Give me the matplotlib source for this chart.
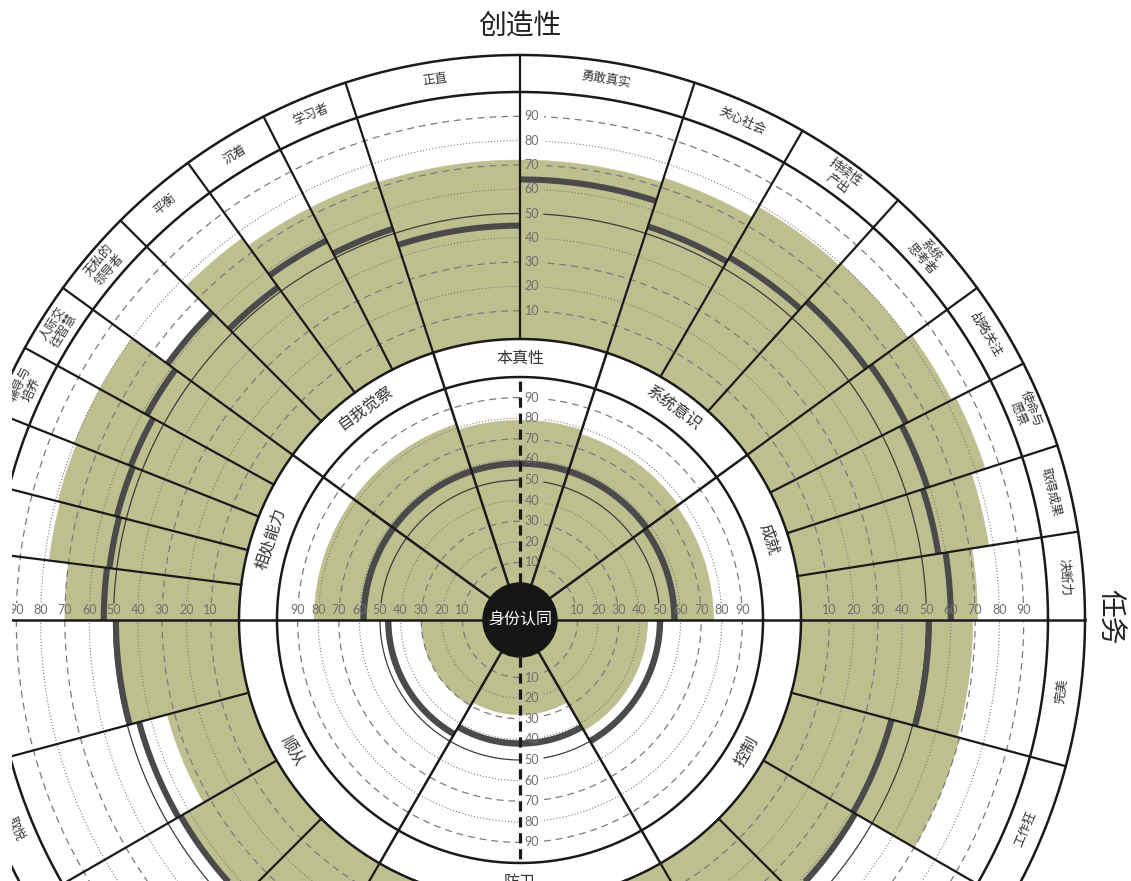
import numpy as np
import matplotlib
matplotlib.use("Agg")
import matplotlib.pyplot as plt
from matplotlib.patches import Wedge, Circle

plt.rcParams['font.family'] = ['Noto Sans CJK SC', 'DejaVu Sans']

# ---------------- data ----------------
axis_titles = ['创造性', '任务']
core_label = '身份认同'

# summary dimensions (inner ring), angles counterclockwise from the right horizontal
inner_dims = ['成就', '系统意识', '本真性', '自我觉察', '相处能力', '顺从', '防卫', '控制']
inner_spans = [(0, 36), (36, 72), (72, 108), (108, 144), (144, 180),
               (180, 240), (240, 300), (300, 360)]
inner_score = [76, 77, 79, 82, 82, 30, 28, 44]   # shaded level
inner_self = [57, 58, 58, 58, 58, 46, 42, 50]    # dark line level

# competencies (outer ring), grouped by the dimensions above
comp_labels = [
    '决断力', '取得成果', '使命与\n愿景', '战略关注',
    '系统\n思考者', '持续性\n产出', '关心社会',
    '勇敢真实', '正直',
    '学习者', '沉着', '平衡', '无私的\n领导者',
    '人际交\n往智慧', '辅导与\n培养', '合作者', '团队精神', '关怀联结',
    '保守', '取悦', '归属', '被动',
    '疏离', '挑剔', '傲慢',
    '专制', '野心', '工作狂', '完美',
]
comp_per_dim = [4, 3, 2, 4, 5, 4, 3, 4]
comp_score = [71, 78, 84, 82,
              80, 79, 74,
              72, 72,
              73, 73, 77, 62,
              80, 80, 79, 78, 70,
              48, 33, 43, 50,
              45, 40, 50,
              50, 41, 70, 69]
comp_self = [60, 57, 59, 61,
             59, 55, 53,
             64, 45,
             52, 58, 52, 62,
             58, 55, 54, 53, 54,
             49, 45, 44, 45,
             45, 44, 44,
             42, 42, 41, 51]

scale_ticks = [10, 20, 30, 40, 50, 60, 70, 80, 90]

# ---------------- geometry ----------------
R_CORE = 37
R_IN_MAX = 243
R_IN_BAND = 281
R_OUT_MAX = 528
R_OUT_BAND = 565


def r_in(v):
    return R_CORE + (R_IN_MAX - R_CORE) * v / 100.0


def r_out(v):
    return 285 + (R_OUT_MAX - 285) * v / 100.0


OLIVE = '#bebf8f'
DARK = '#4a4a4a'
GRID = '#7a7a7a'
INK = '#1a1a1a'
TXT = '#333333'
TICK = '#6e6e6e'

W, H = 1131, 881
LEFT = 12  # blank strip on the left edge of the canvas
fig = plt.figure(figsize=(W / 100, H / 100), dpi=100)
ax = fig.add_axes([LEFT / W, 0, 1 - LEFT / W, 1])
ax.set_xlim(-520 + LEFT, 611)
ax.set_ylim(-261, 620)
ax.set_aspect('equal')
ax.axis('off')


def arc(r, a1, a2, **kw):
    t = np.radians(np.linspace(a1, a2, max(8, int(abs(a2 - a1) * 3))))
    ax.plot(r * np.cos(t), r * np.sin(t), **kw)


def ray(a, r1, r2, **kw):
    t = np.radians(a)
    ax.plot([r1 * np.cos(t), r2 * np.cos(t)], [r1 * np.sin(t), r2 * np.sin(t)], **kw)


# competency spans
comp_spans = []
for (a1, a2), n in zip(inner_spans, comp_per_dim):
    step = (a2 - a1) / n
    for k in range(n):
        comp_spans.append((a1 + k * step, a1 + (k + 1) * step))

# ---- shaded scores ----
for (a1, a2), v in zip(inner_spans, inner_score):
    ax.add_patch(Wedge((0, 0), r_in(v), a1, a2, width=r_in(v) - R_CORE,
                       facecolor=OLIVE, edgecolor=OLIVE, lw=0.4, zorder=1))
for (a1, a2), v in zip(comp_spans, comp_score):
    ax.add_patch(Wedge((0, 0), r_out(v), a1, a2, width=r_out(v) - R_IN_BAND,
                       facecolor=OLIVE, edgecolor=OLIVE, lw=0.4, zorder=1))

# ---- scale rings with gaps where the tick numbers sit ----
for rf in (r_in, r_out):
    for v in scale_ticks:
        r = rf(v)
        gh = np.degrees(np.arcsin(17.0 / r))
        gv = np.degrees(np.arcsin(24.0 / r))
        if v == 50:
            kw = dict(color='#3c3c3c', lw=0.9, ls='-')
        elif (v // 10) % 2 == 1:
            kw = dict(color=GRID, lw=0.9, ls=(0, (5.5, 4)))
        else:
            kw = dict(color=GRID, lw=0.8, ls=(0, (1, 1.8)))
        for s1, s2 in [(gh, 90 - gv), (90, 180 - gh), (180, 270), (270 + gv, 360)]:
            arc(r, s1, s2, zorder=2, **kw)

# ---- dark score lines ----
for (a1, a2), v in zip(inner_spans, inner_self):
    arc(r_in(v), a1, a2, color=DARK, lw=4.6, solid_capstyle='butt', zorder=3)
for (a1, a2), v in zip(comp_spans, comp_self):
    arc(r_out(v), a1, a2, color=DARK, lw=4.4, solid_capstyle='butt', zorder=3)

# ---- frame: rings, spokes, axes ----
for r in (R_IN_MAX, R_IN_BAND, R_OUT_MAX, R_OUT_BAND):
    arc(r, 0, 360, color=INK, lw=1.8, zorder=4)

ax.plot([-R_OUT_BAND, R_OUT_BAND], [0, 0], color=INK, lw=1.8, zorder=4)
for a in (36, 72, 108, 144, 240, 300):
    ray(a, R_CORE, R_IN_BAND, color=INK, lw=1.8, zorder=4)
for a1, a2 in comp_spans:
    if a1 % 180 != 0:
        ray(a1, R_IN_BAND, R_OUT_BAND, color=INK, lw=1.6, zorder=4)
for a in (90, 270):
    ray(a, R_CORE, R_IN_MAX, color=INK, lw=2.3, ls=(0, (3.2, 1.8)), zorder=4)

# ---- tick numbers ----
tick_kw = dict(fontsize=9, color=TICK, family=['Lato', 'DejaVu Sans'],
               ha='center', va='center', zorder=5, clip_on=True)
for v in scale_ticks:
    for rf in (r_in, r_out):
        r = rf(v)
        ax.text(r, 10.5, str(v), **tick_kw)
        ax.text(-r, 10.5, str(v), **tick_kw)
        ax.text(12, r, str(v), **tick_kw)
    ax.text(12, -r_in(v), str(v), **tick_kw)


def tangent_rot(m):
    return m - 90 if m <= 180 else m - 270


# ---- dimension labels ----
r_lab = (R_IN_MAX + R_IN_BAND) / 2
for name, (a1, a2) in zip(inner_dims, inner_spans):
    m = (a1 + a2) / 2
    t = np.radians(m)
    ax.text(r_lab * np.cos(t), r_lab * np.sin(t), name, fontsize=11.5, color=TXT,
            rotation=tangent_rot(m), rotation_mode='anchor', ha='center', va='center',
            zorder=6, clip_on=True)

r_lab2 = (R_OUT_MAX + R_OUT_BAND) / 2
for name, (a1, a2) in zip(comp_labels, comp_spans):
    m = (a1 + a2) / 2
    t = np.radians(m)
    ax.text(r_lab2 * np.cos(t), r_lab2 * np.sin(t), name, fontsize=9, color=TXT,
            rotation=tangent_rot(m), rotation_mode='anchor', ha='center', va='center',
            linespacing=1.05, multialignment='center', zorder=6, clip_on=True)

# ---- core ----
ax.add_patch(Circle((0, 0), R_CORE, facecolor='#151515', edgecolor='#151515', zorder=7))
ax.text(0, 0, core_label, fontsize=11.5, color='white', ha='center', va='center', zorder=8)

# ---- axis titles ----
ax.text(0, 593, axis_titles[0], fontsize=20, color='#222222', ha='center', va='center')
ax.text(590, 3, axis_titles[1], fontsize=20, color='#222222', ha='center', va='center',
        rotation=-90)

fig.savefig('out.png', dpi=100)
